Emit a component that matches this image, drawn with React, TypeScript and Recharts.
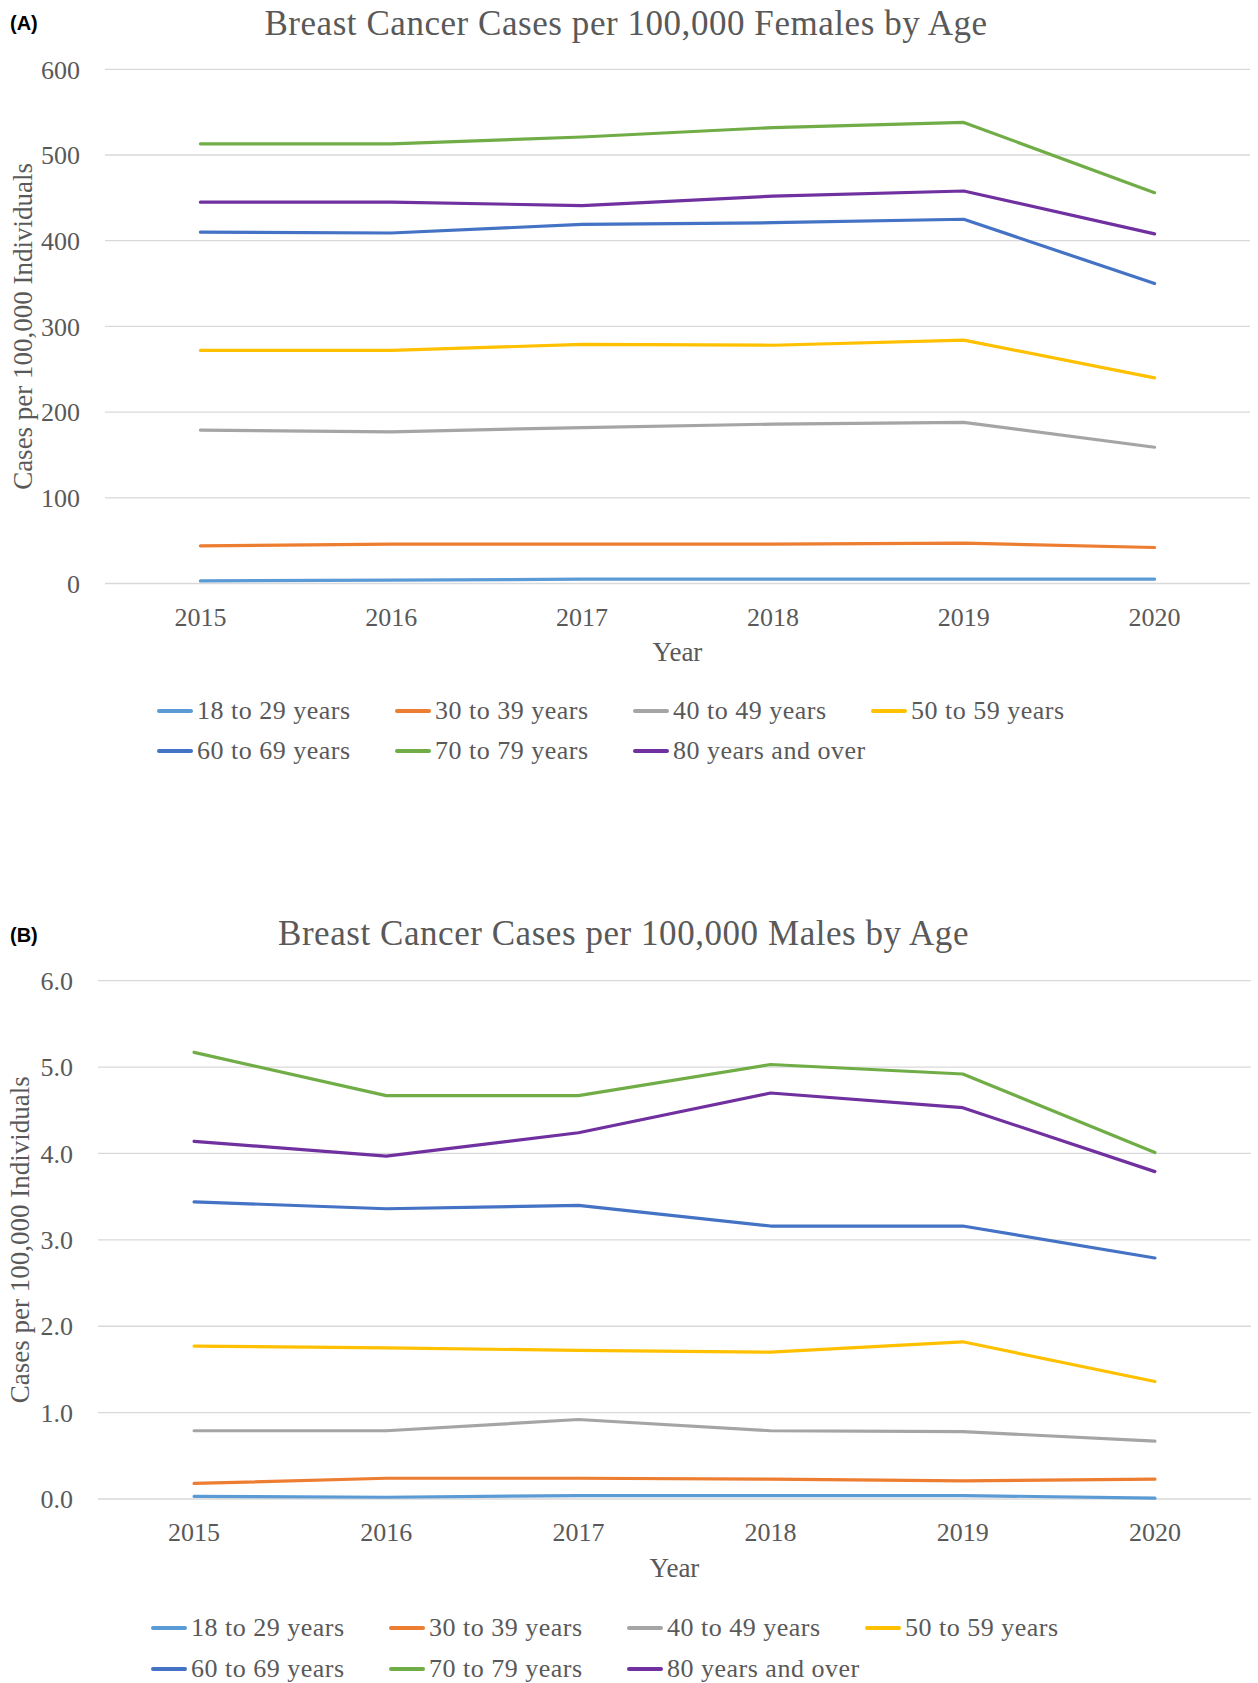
import React from 'react';
import { ComposedChart, Line, XAxis, YAxis, CartesianGrid } from 'recharts';

const years = [2015, 2016, 2017, 2018, 2019, 2020];
const seriesNames = ['18 to 29 years', '30 to 39 years', '40 to 49 years', '50 to 59 years', '60 to 69 years', '70 to 79 years', '80 years and over'];
const seriesColors = ['#5B9BD5', '#ED7D31', '#A5A5A5', '#FFC000', '#4472C4', '#70AD47', '#7030A0'];

// Panel A: females
const female18to29 = [3, 4, 5, 5, 5, 5];
const female30to39 = [44, 46, 46, 46, 47, 42];
const female40to49 = [179, 177, 182, 186, 188, 159];
const female50to59 = [272, 272, 279, 278, 284, 240];
const female60to69 = [410, 409, 419, 421, 425, 350];
const female70to79 = [513, 513, 521, 532, 538, 456];
const female80plus = [445, 445, 441, 452, 458, 408];
const femaleTicks = [0, 100, 200, 300, 400, 500, 600];

// Panel B: males
const male18to29 = [0.03, 0.02, 0.04, 0.04, 0.04, 0.01];
const male30to39 = [0.18, 0.24, 0.24, 0.23, 0.21, 0.23];
const male40to49 = [0.79, 0.79, 0.92, 0.79, 0.78, 0.67];
const male50to59 = [1.77, 1.75, 1.72, 1.70, 1.82, 1.36];
const male60to69 = [3.44, 3.36, 3.40, 3.16, 3.16, 2.79];
const male70to79 = [5.17, 4.67, 4.67, 5.03, 4.92, 4.01];
const male80plus = [4.14, 3.97, 4.24, 4.70, 4.53, 3.79];
const maleTicks = [0, 1, 2, 3, 4, 5, 6];

const femaleSeries = [female18to29, female30to39, female40to49, female50to59, female60to69, female70to79, female80plus];
const maleSeries = [male18to29, male30to39, male40to49, male50to59, male60to69, male70to79, male80plus];

const buildRows = (series: number[][]) =>
  years.map((year, i) => {
    const row: Record<string, any> = { year: String(year) };
    series.forEach((s, k) => {
      row['s' + k] = s[i];
    });
    return row;
  });

const femaleData = buildRows(femaleSeries);
const maleData = buildRows(maleSeries);

const SERIF = '"Liberation Serif", "Times New Roman", serif';
const TEXT = '#595959';

type PanelProps = {
  data: Record<string, any>[];
  ticks: number[];
  domainMax: number;
  fmt: (v: number) => string;
  top: number;
  height: number;
  marginTop: number;
  yAxisWidth: number;
  marginRight: number;
  xAxisHeight: number;
  yLabelX: number;
  yearOffset: number;
};

const Panel = (p: PanelProps) => (
  <div style={{ position: 'absolute', left: 0, top: p.top, width: 1258, height: p.height }}>
    <ComposedChart
      width={1258}
      height={p.height}
      data={p.data}
      margin={{ top: p.marginTop, right: p.marginRight, bottom: 0, left: 0 }}
    >
      <CartesianGrid vertical={false} stroke="#d9d9d9" strokeWidth={1.3} />
      <XAxis
        dataKey="year"
        type="category"
        scale="band"
        axisLine={false}
        tickLine={false}
        tickSize={0}
        tickMargin={24}
        height={p.xAxisHeight}
        interval={0}
        tick={{ fill: TEXT, fontSize: 26, fontFamily: SERIF }}
        label={{ value: 'Year', position: 'insideBottom', offset: p.yearOffset, fill: TEXT, fontSize: 27, fontFamily: SERIF }}
      />
      <YAxis
        type="number"
        domain={[0, p.domainMax]}
        ticks={p.ticks}
        width={p.yAxisWidth}
        axisLine={false}
        tickLine={false}
        tickSize={0}
        tickMargin={25}
        interval={0}
        tickFormatter={p.fmt}
        tick={{ fill: TEXT, fontSize: 26, fontFamily: SERIF }}
        label={{
          content: (lp: any) => {
            const vb = lp.viewBox || { y: 0, height: 0 };
            const cy = vb.y + vb.height / 2;
            return (
              <text
                x={p.yLabelX}
                y={cy}
                transform={`rotate(-90, ${p.yLabelX}, ${cy})`}
                textAnchor="middle"
                fill={TEXT}
                fontSize={27}
                fontFamily={SERIF}
              >
                Cases per 100,000 Individuals
              </text>
            );
          },
        }}
      />
      {seriesNames.map((name, k) => (
        <Line
          key={name}
          name={name}
          dataKey={'s' + k}
          type="linear"
          stroke={seriesColors[k]}
          strokeWidth={3.2}
          strokeLinecap="round"
          strokeLinejoin="round"
          dot={false}
          activeDot={false}
          isAnimationActive={false}
        />
      ))}
    </ComposedChart>
  </div>
);

const LegendBlock = ({ left, rowTops }: { left: number; rowTops: number[] }) => (
  <>
    {seriesNames.map((name, k) => {
      const row = Math.floor(k / 4);
      const col = k % 4;
      return (
        <div
          key={name}
          style={{
            position: 'absolute',
            left: left + col * 238,
            top: rowTops[row] - 15,
            height: 30,
            display: 'flex',
            alignItems: 'center',
            whiteSpace: 'nowrap',
            fontFamily: SERIF,
            fontSize: 26,
            lineHeight: '30px',
            color: TEXT,
            letterSpacing: 0.5,
          }}
        >
          <span
            style={{
              display: 'inline-block',
              width: 36,
              height: 3.4,
              borderRadius: 2,
              background: seriesColors[k],
              marginRight: 4,
            }}
          />
          <span>{name}</span>
        </div>
      );
    })}
  </>
);

export default function App() {
  return (
    <div style={{ position: 'absolute', left: 0, top: 0, width: 1258, height: 1683, background: '#fff', overflow: 'hidden' }}>
      <Panel
        data={femaleData}
        ticks={femaleTicks}
        domainMax={600}
        fmt={(v) => String(v)}
        top={0}
        height={690}
        marginTop={69.3}
        yAxisWidth={105}
        marginRight={8}
        xAxisHeight={106.5}
        yLabelX={32}
        yearOffset={29.3}
      />
      <Panel
        data={maleData}
        ticks={maleTicks}
        domainMax={6}
        fmt={(v) => v.toFixed(1)}
        top={900}
        height={700}
        marginTop={80.7}
        yAxisWidth={98}
        marginRight={7}
        xAxisHeight={101}
        yLabelX={29}
        yearOffset={23}
      />
      <LegendBlock left={157} rowTops={[711, 751]} />
      <LegendBlock left={151} rowTops={[1628, 1669]} />
      <svg width={1258} height={1683} style={{ position: 'absolute', left: 0, top: 0, pointerEvents: 'none' }}>
        <text x={10} y={30} fontFamily='"Liberation Sans", Arial, sans-serif' fontWeight="bold" fontSize={20} fill="#000">(A)</text>
        <text x={626} y={35} textAnchor="middle" fontFamily={SERIF} fontSize={35} letterSpacing={0.55} fill={TEXT}>
          Breast Cancer Cases per 100,000 Females by Age
        </text>
        <text x={10} y={942} fontFamily='"Liberation Sans", Arial, sans-serif' fontWeight="bold" fontSize={20} fill="#000">(B)</text>
        <text x={623.5} y={945} textAnchor="middle" fontFamily={SERIF} fontSize={35} letterSpacing={0.55} fill={TEXT}>
          Breast Cancer Cases per 100,000 Males by Age
        </text>
      </svg>
    </div>
  );
}
